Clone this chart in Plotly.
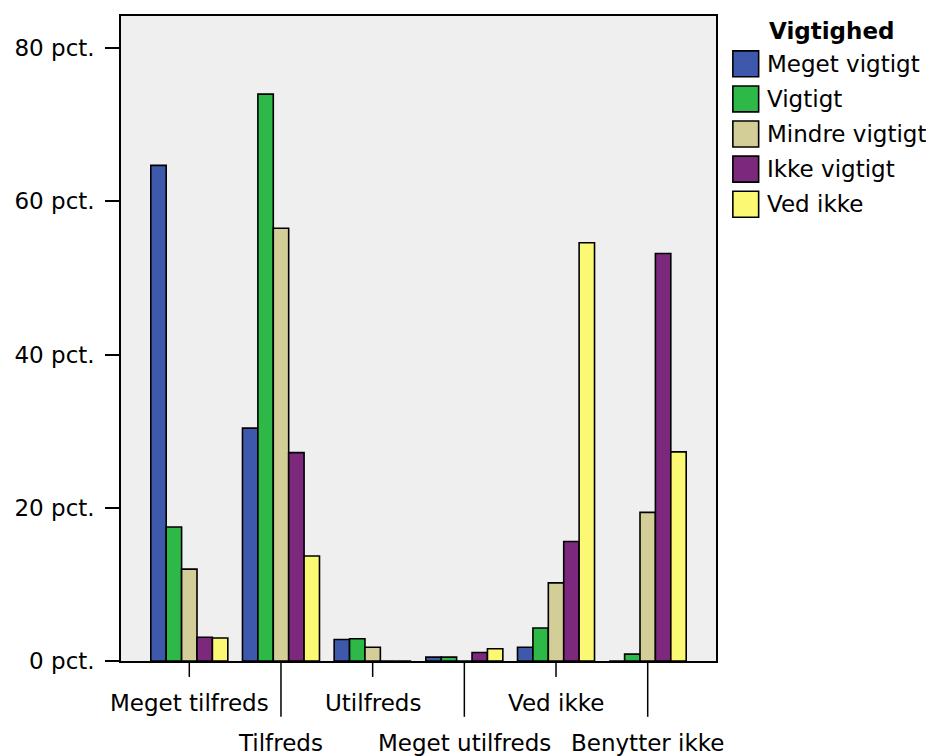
import plotly.graph_objects as go

categories = ["Meget tilfreds", "Tilfreds", "Utilfreds", "Meget utilfreds", "Ved ikke", "Benytter ikke"]
series_names = ["Meget vigtigt", "Vigtigt", "Mindre vigtigt", "Ikke vigtigt", "Ved ikke"]
meget_vigtigt = [64.7, 30.4, 2.8, 0.5, 1.8, 0.0]
vigtigt = [17.5, 74.0, 2.9, 0.5, 4.3, 0.9]
mindre_vigtigt = [12.0, 56.5, 1.8, 0.0, 10.2, 19.4]
ikke_vigtigt = [3.1, 27.2, 0.0, 1.1, 15.6, 53.2]
ved_ikke = [3.0, 13.7, 0.0, 1.6, 54.6, 27.3]
y_ticks = [0, 20, 40, 60, 80]
colors = ["#3E58AC", "#2EB848", "#D3CE97", "#7B287D", "#FBF873"]

FONT = "DejaVu Sans"
FS = 23
values = [meget_vigtigt, vigtigt, mindre_vigtigt, ikke_vigtigt, ved_ikke]

# figure geometry (page has an 8px body margin)
W, H = 926, 748
ML, MR, MT, MB = 108, 218, 6, 95
PW, PH = W - ML - MR, H - MT - MB
OFF = 8


def px(xr):  # reference-pixel x -> paper
    return (xr - OFF - ML) / PW


def py(yr):  # reference-pixel y -> paper
    return (H - MB - (yr - OFF)) / PH


fig = go.Figure()
for name, vals, col in zip(series_names, values, colors):
    fig.add_trace(go.Bar(
        x=categories, y=vals, name=name,
        marker=dict(color=col, line=dict(color="black", width=1.6)),
        showlegend=False,
    ))

# staggered category labels and tick lines
for i, cat in enumerate(categories):
    long = i % 2 == 1
    fig.add_shape(type="line", xref="x", yref="paper", x0=cat, x1=cat,
                  y0=0, y1=py(717) if long else py(677),
                  line=dict(color="black", width=1.5))
    fig.add_annotation(x=cat, xref="x", yref="paper",
                       y=py(743) if long else py(703), yanchor="middle",
                       text=cat, showarrow=False,
                       font=dict(family=FONT, size=FS, color="black"))

# legend (drawn as decorations)
fig.add_annotation(x=px(767), y=py(29), xref="paper", yref="paper",
                   xanchor="left", yanchor="middle", showarrow=False,
                   text="<b>Vigtighed</b>",
                   font=dict(family=FONT, size=FS, color="black"))
for k, (name, col) in enumerate(zip(series_names, colors)):
    cy = 62 + 35.2 * k
    fig.add_shape(type="rect", xref="paper", yref="paper",
                  x0=px(733), x1=px(759), y0=py(cy + 13), y1=py(cy - 13),
                  fillcolor=col, line=dict(color="black", width=1.6))
    fig.add_annotation(x=px(765), y=py(cy), xref="paper", yref="paper",
                       xanchor="left", yanchor="middle", showarrow=False,
                       text=name, font=dict(family=FONT, size=FS, color="black"))

fig.update_layout(
    width=W, height=H,
    margin=dict(l=ML, r=MR, t=MT, b=MB),
    paper_bgcolor="white",
    plot_bgcolor="#EFEFEF",
    barmode="group",
    bargap=0.16,
    bargroupgap=0,
    font=dict(family=FONT, size=FS, color="black"),
    showlegend=False,
    xaxis=dict(
        type="category",
        range=[-0.745, 5.745],
        showticklabels=False, ticks="",
        showline=True, linecolor="black", linewidth=1.5, mirror=True,
        showgrid=False, zeroline=False,
    ),
    yaxis=dict(
        range=[0, 84.2],
        tickvals=y_ticks,
        ticktext=[f"{v} pct." for v in y_ticks],
        ticks="outside", ticklen=14, tickwidth=1.5, tickcolor="black",
        ticklabelstandoff=6,
        showline=True, linecolor="black", linewidth=1.5, mirror=True,
        showgrid=False, zeroline=False,
        tickfont=dict(family=FONT, size=FS),
    ),
)

fig.write_html("out.html")
